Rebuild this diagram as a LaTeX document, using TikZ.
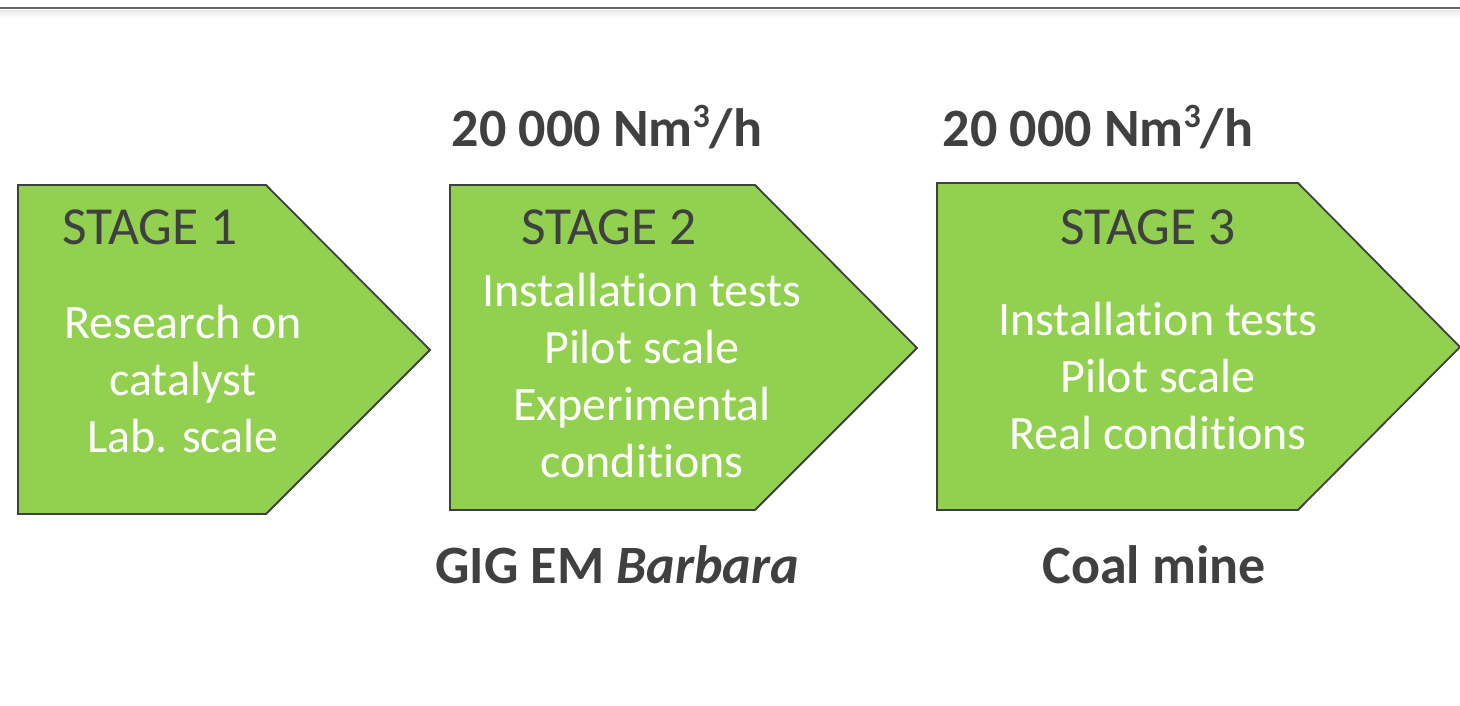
\documentclass[tikz,border=0pt]{standalone}
\usepackage{fontspec}
\setmainfont[RawFeature={-liga;-clig;-dlig;-calt}]{Carlito}
\definecolor{stagegreen}{HTML}{92D050}
\definecolor{edgegray}{HTML}{404040}
\definecolor{textgray}{HTML}{404040}
\newcommand{\cubed}{\raisebox{0.36em}{\fontsize{34}{34}\selectfont 3}}
\newcommand{\tbrk}{t\kern0pt}
\begin{document}
\begin{tikzpicture}[x=1pt,y=-1pt,
  stagebox/.style={fill=stagegreen,draw=edgegray,line width=1.8pt,line join=miter},
  stagetitle/.style={anchor=base,text=textgray,font=\fontsize{53.5}{63}\selectfont,inner sep=0pt},
  bodyline/.style={anchor=base,text=white,font=\fontsize{48}{58}\selectfont,inner sep=0pt},
  biglabel/.style={anchor=base,text=textgray,font=\fontsize{54}{64}\selectfont\bfseries,inner sep=0pt}]
\useasboundingbox (0,0) rectangle (1460,706);
\fill[white] (0,0) rectangle (1460,706);
% top rule with soft shadow
\foreach \i/\o in {1/0.10,2/0.08,3/0.06,4/0.05,5/0.04,6/0.03,7/0.02,8/0.015} {
  \fill[black,opacity=\o] (0,9+\i) rectangle (1460,10+\i);
}
\draw[color=black!60,line width=2.2pt] (0,8) -- (1460,8);
% stage shapes
\draw[stagebox] (18,185) -- (266,185) -- (430,350) -- (266,514) -- (18,514) -- cycle;
\draw[stagebox] (450,185) -- (755,185) -- (917,348) -- (755,510) -- (450,510) -- cycle;
\draw[stagebox] (937,183) -- (1298,183) -- (1460,347) -- (1298,510) -- (937,510) -- cycle;
% stage titles
\node[stagetitle] (t1) at (150,244) {STAGE 1};
\node[stagetitle] (t2) at (609,244) {STAGE 2};
\node[stagetitle] (t3) at (1148,244) {STAGE 3};
% stage 1 body
\node[bodyline] (b1a) at (183,338) {Research on};
\node[bodyline] (b1b) at (183,395) {catalyst};
\node[bodyline] (b1c) at (183,452) {Lab. scale};
% stage 2 body
\node[bodyline] (b2a) at (642,306) {Installa\tbrk ion tests};
\node[bodyline] (b2b) at (642,363) {Pilot scale};
\node[bodyline] (b2c) at (642,420) {Experimental};
\node[bodyline] (b2d) at (642,477) {condi\tbrk ions};
% stage 3 body
\node[bodyline] (b3a) at (1158,335) {Installa\tbrk ion tests};
\node[bodyline] (b3b) at (1158,392) {Pilot scale};
\node[bodyline] (b3c) at (1158,449) {Real condi\tbrk ions};
% labels above / below
\node[biglabel] (f2) at (607,147) {20 000 Nm\cubed/h};
\node[biglabel] (f3) at (1098,147) {20 000 Nm\cubed/h};
\node[biglabel] (p2) at (617,583) {GIG EM \textit{Barbara}};
\node[biglabel] (p3) at (1154,583) {Coal mine};
\end{tikzpicture}
\end{document}
